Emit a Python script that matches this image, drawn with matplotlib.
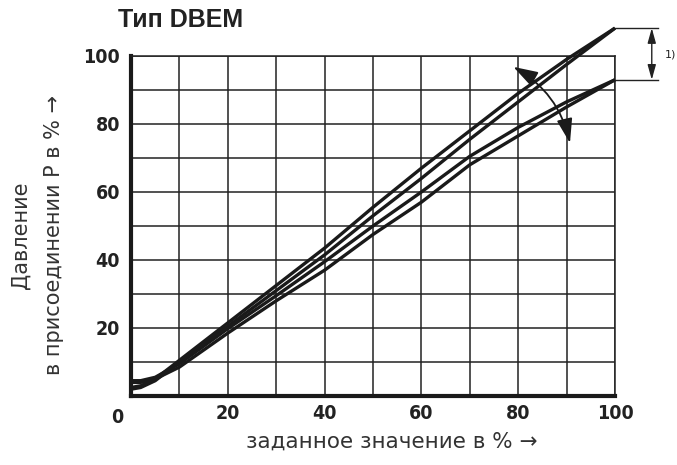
import numpy as np
import matplotlib
matplotlib.use('Agg')
import matplotlib.pyplot as plt
from matplotlib.patches import FancyArrowPatch

# setpoint in % (x) and outlet pressure in % (y)
x_pts = [0, 2, 5, 10, 20, 30, 40, 50, 60, 70, 80, 90, 100]
upper_a = [2.5, 3.0, 5.0, 10.5, 21.5, 32.5, 43.5, 55.5, 67.0, 78.0, 89.0, 99.0, 108.2]
upper_b = [2.0, 2.5, 4.5, 10.0, 20.5, 31.0, 41.5, 53.0, 64.0, 75.5, 86.5, 97.5, 108.2]
lower_a = [4.5, 4.5, 5.5, 9.5, 19.8, 29.5, 39.5, 50.0, 60.0, 70.5, 79.0, 86.5, 93.0]
lower_b = [4.0, 4.0, 5.0, 8.5, 18.5, 28.0, 37.0, 47.5, 57.0, 68.0, 76.5, 85.0, 93.0]

tick_vals = [20, 40, 60, 80, 100]
title = 'Тип DBEM'
x_label = 'заданное значение в % →'
y_label = 'Давление\nв присоединении P в % →'
note = '1)'

narrow = ['DejaVu Sans']

fig = plt.figure(figsize=(6.77, 4.65), dpi=100)
ax = fig.add_axes([0.1935, 0.1484, 0.7149, 0.7312])
ax.set_xlim(0, 100)
ax.set_ylim(0, 100)

# grid every 10 %
ax.set_xticks(np.arange(0, 101, 10), minor=True)
ax.set_yticks(np.arange(0, 101, 10), minor=True)
ax.grid(True, which='both', color='#222222', lw=1.1)
ax.set_xticks(tick_vals)
ax.set_yticks(tick_vals)
ax.tick_params(which='both', length=0)
ax.tick_params(axis='x', pad=6)
ax.tick_params(axis='y', pad=8)
for lab in ax.get_xticklabels() + ax.get_yticklabels():
    lab.set_family(narrow)
    lab.set_fontstretch('condensed')
    lab.set_fontweight('bold')
    lab.set_fontsize(14)
    lab.set_color('#222222')

for s in ['left', 'bottom']:
    ax.spines[s].set_linewidth(3)
    ax.spines[s].set_color('#1a1a1a')
for s in ['top', 'right']:
    ax.spines[s].set_linewidth(1.1)
    ax.spines[s].set_color('#222222')

ax.text(-1.5, -3.5, '0', ha='right', va='top', family=narrow,
        fontstretch='condensed', fontweight='bold', fontsize=14,
        color='#222222')

for ys in [upper_a, upper_b, lower_a, lower_b]:
    ax.plot(x_pts, ys, color='#1a1a1a', lw=2.4, clip_on=False,
            solid_capstyle='butt', zorder=3)

# tolerance band marker at the right
top_end = upper_a[-1]
low_end = lower_a[-1]
ax.plot([100, 108.9], [top_end, top_end], color='#222222', lw=1, clip_on=False)
ax.plot([100, 108.9], [low_end, low_end], color='#222222', lw=1, clip_on=False)
ax.annotate('', xy=(107.6, top_end), xytext=(107.6, low_end),
            arrowprops=dict(arrowstyle='<|-|>,head_length=0.9,head_width=0.25',
                            color='#222222', lw=1, shrinkA=0, shrinkB=0),
            annotation_clip=False)
ax.text(110.3, 100.5, note, fontsize=8, va='center', ha='left', color='#222222',
        clip_on=False)

# curved double arrow
arc = FancyArrowPatch((79, 96.8), (90.7, 74.4),
                      connectionstyle='arc3,rad=-0.22',
                      arrowstyle='<|-|>,head_length=1.0,head_width=0.32',
                      mutation_scale=15, color='#1a1a1a', lw=1.3,
                      shrinkA=0, shrinkB=0, zorder=4)
ax.add_patch(arc)

fig.text(118 / 677, 1 - 20 / 465, title, fontsize=18, fontweight='bold',
         family=['Liberation Sans', 'DejaVu Sans'], ha='left', va='center',
         color='#222222')
fig.text(392 / 677, 1 - 442 / 465, x_label, fontsize=15.5, ha='center',
         va='center', color='#333333', family=['DejaVu Sans'])
fig.text(37 / 677, 1 - 235 / 465, y_label, fontsize=15, ha='center',
         va='center', rotation=90, color='#333333', linespacing=1.85,
         multialignment='center', family=['DejaVu Sans'])

fig.savefig('out.png', dpi=100)
